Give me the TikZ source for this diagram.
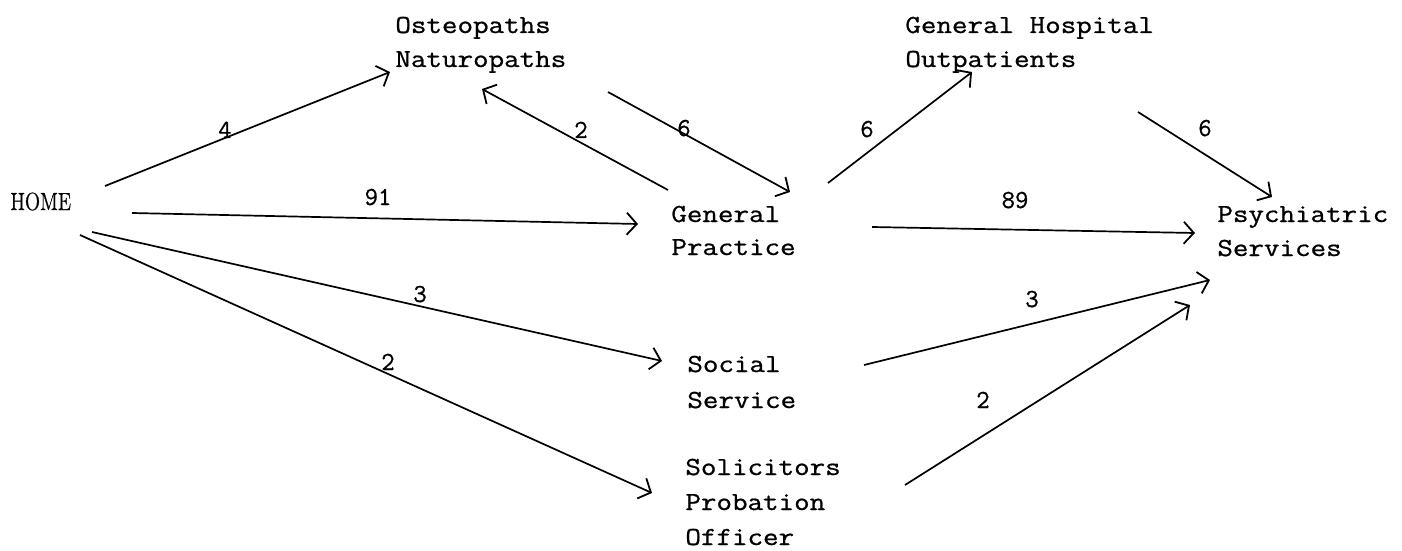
\documentclass[tikz,border=0pt]{standalone}
\usepackage{fontspec}
\usepackage{graphicx}
\usetikzlibrary{arrows.meta}
\newfontfamily\typefont{Latin Modern Mono}[FakeBold=0.8]
\newfontfamily\homefont{Latin Modern Roman}[FakeBold=0.8]
\newcommand\twtext[1]{\scalebox{1.16}[1]{#1}}
\newcommand\hometext[1]{\scalebox{0.8}[1]{#1}}
\tikzset{
  lbl/.style={anchor=base west, inner sep=0pt, font=\fontsize{13}{16}\typefont},
  num/.style={anchor=base, inner sep=0pt, font=\fontsize{13}{16}\typefont},
  flow/.style={line width=0.85pt, -{Straight Barb[length=5pt,width=11pt,line width=0.9pt]}},
}
\begin{document}
\begin{tikzpicture}[x=0.5pt,y=-0.5pt]
\useasboundingbox (0,0) rectangle (1402,551);
% text nodes
\node[anchor=base west, inner sep=0pt, font=\fontsize{12.4}{15}\homefont] (home) at (10,210) {\hometext{HOME}};
\node[lbl] (osteo) at (395,33) {\twtext{Osteopaths}};
\node[lbl] (natur) at (395,67) {\twtext{Naturopaths}};
\node[lbl] (ghosp) at (905,33) {\twtext{General Hospital}};
\node[lbl] (outp) at (905,67) {\twtext{Outpatients}};
\node[lbl] (gen) at (671,222) {\twtext{General}};
\node[lbl] (prac) at (671,255) {\twtext{Practice}};
\node[lbl] (psych) at (1217,222) {\twtext{Psychiatric}};
\node[lbl] (serv) at (1217,256) {\twtext{Services}};
\node[lbl] (soc) at (687,372) {\twtext{Social}};
\node[lbl] (socserv) at (687,408) {\twtext{Service}};
\node[lbl] (solic) at (685,475) {\twtext{Solicitors}};
\node[lbl] (prob) at (685,510) {\twtext{Probation}};
\node[lbl] (offic) at (685,545) {\twtext{Officer}};
% connector end points
\coordinate (hA) at (105,186);  \coordinate (oA) at (390,72);
\coordinate (gB) at (668,190);  \coordinate (oB) at (482,89);
\coordinate (oC) at (608,92);   \coordinate (gC) at (790,192);
\coordinate (hD) at (132,213);  \coordinate (gD) at (638,224);
\coordinate (gE) at (828,183);  \coordinate (hoE) at (972,72);
\coordinate (hoF) at (1138,112); \coordinate (pF) at (1272,197);
\coordinate (gG) at (872,227);  \coordinate (pG) at (1195,233);
\coordinate (hH) at (92,232);   \coordinate (sH) at (662,361);
\coordinate (hI) at (80,235);   \coordinate (lI) at (652,493);
\coordinate (sJ) at (864,365);  \coordinate (pJ) at (1210,280);
\coordinate (lK) at (905,485);  \coordinate (pK) at (1190,305);
% connectors
\draw[flow] (hA) -- (oA);
\draw[flow] (gB) -- (oB);
\draw[flow] (oC) -- (gC);
\draw[flow] (hD) -- (gD);
\draw[flow] (gE) -- (hoE);
\draw[flow] (hoF) -- (pF);
\draw[flow] (gG) -- (pG);
\draw[flow] (hH) -- (sH);
\draw[flow] (hI) -- (lI);
\draw[flow] (sJ) -- (pJ);
\draw[flow] (lK) -- (pK);
% labels
\node[num] (n4) at (225,138) {4};
\node[num] (n2a) at (581,138) {2};
\node[num] (n6a) at (684,136) {6};
\node[num] (n91) at (378,205) {91};
\node[num] (n6b) at (867,137) {6};
\node[num] (n6c) at (1205,136) {6};
\node[num] (n89) at (1015,208) {89};
\node[num] (n3a) at (420,302) {3};
\node[num] (n2b) at (388,370) {2};
\node[num] (n3b) at (1032,307) {3};
\node[num] (n2c) at (983,408) {2};
\end{tikzpicture}
\end{document}
